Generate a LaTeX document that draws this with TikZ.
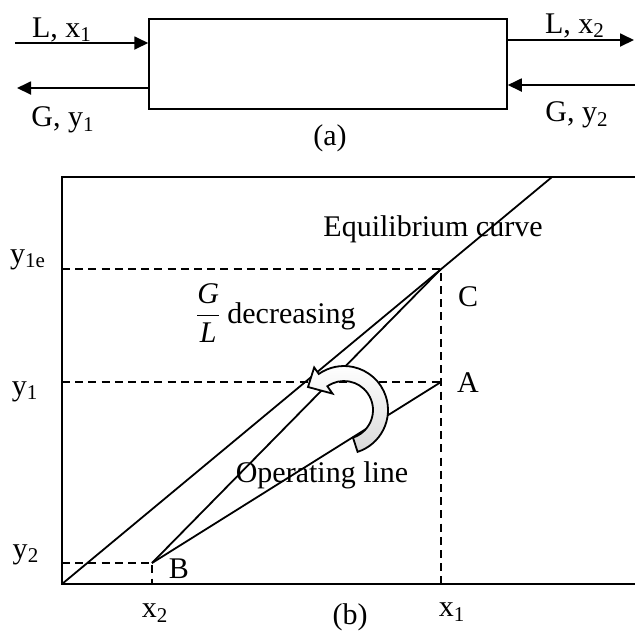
\documentclass[tikz,border=0pt]{standalone}
\usepackage{fontspec}
\setmainfont{Liberation Serif}
\usetikzlibrary{arrows.meta}

\begin{document}
\begin{tikzpicture}[x=0.5pt,y=-0.5pt,line width=0.9pt,>={Triangle[length=7pt,width=6.5pt]},
  every node/.style={font=\fontsize{15}{18}\selectfont},
  guide/.style={dash pattern=on 4pt off 2.6pt}]
  \useasboundingbox (0,0) rectangle (635,634);
  % (a) column with its two streams
  \node[draw,line width=0.75pt,minimum width=179pt,minimum height=45pt,inner sep=0pt] (col) at (328,64) {};
  \coordinate (Lin) at (15,43);
  \coordinate (Gout) at (17,88);
  \coordinate (Lout) at (634,40);
  \coordinate (Gin) at (635,85);
  \draw[->] (Lin) -- (Lin -| col.west);
  \draw[->] (Gout -| col.west) -- (Gout);
  \draw[->] (Lout -| col.east) -- (Lout);
  \draw[->] (Gin) -- (Gin -| col.east);
  \node (lx1) at (62,30) {L, x\textsubscript{1}};
  \node (gy1) at (63,120) {G, y\textsubscript{1}};
  \node (lx2) at (575,26) {L, x\textsubscript{2}};
  \node (gy2) at (577,115) {G, y\textsubscript{2}};
  \node (capa) at (330,138) {(a)};
  % (b) frame and points
  \coordinate (O) at (62,584);
  \coordinate (tl) at (62,177);
  \coordinate (tr) at (635,177);
  \coordinate (br) at (635,584);
  \coordinate (C) at (441,269);
  \coordinate (A) at (441,382);
  \coordinate (B) at (152,563);
  \coordinate (E) at (552,177);
  \draw (tr) -- (tl) -- (O) -- (br);
  % dashed guides
  \draw[guide] (O |- C) -- (C) -- (O -| C);
  \draw[guide] (O |- A) -- (A);
  \draw[guide] (O |- B) -- (B) -- (O -| B);
  % equilibrium and operating lines
  \draw (O) -- (E);
  \draw (B) -- (A);
  \draw (B) -- (C);
  % labels
  \node (y1e) at (28,260) {y\textsubscript{1e}};
  \node (y1) at (25,392) {y\textsubscript{1}};
  \node (y2) at (26,555) {y\textsubscript{2}};
  \node (x2) at (155,613) {x\textsubscript{2}};
  \node (x1) at (452,612) {x\textsubscript{1}};
  \node (capb) at (350,617) {(b)};
  \node (lC) at (468,297) {C};
  \node (lA) at (468,383) {A};
  \node (lB) at (179,569) {B};
  \node (eqc) at (433,229) {Equilibrium curve};
  \node (opl) at (322,475) {Operating line};
  \node[anchor=base west,inner sep=0pt] (gl) at (194,323) {$\displaystyle\frac{\textit{G}}{\textit{L}}$\hspace{3pt}decreasing};
  % turning arrow
  \begin{scope}[shift={(344,410)}]
    \path[draw,top color=white,bottom color=gray!30] (72:44) arc[start angle=72,end angle=-125,radius=44] -- (-125:52) -- (-36,-23) -- (-125:20) -- (-125:29) arc[start angle=-125,end angle=72,radius=29] -- cycle;
  \end{scope}
\end{tikzpicture}
\end{document}
